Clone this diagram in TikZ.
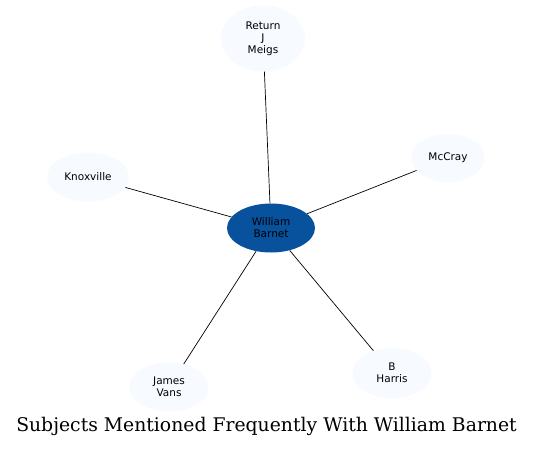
\documentclass[tikz,border=0pt]{standalone}
\usepackage{fontspec}
\usetikzlibrary{shapes.geometric}
\setmainfont{DejaVu Serif}
\newfontfamily\labelfont{DejaVu Sans}
\definecolor{hubblue}{HTML}{08519C}
\definecolor{leafblue}{HTML}{F7FBFF}
\begin{document}
\begin{tikzpicture}[x=1pt,y=-1pt,
  ent/.style={ellipse, fill=leafblue, draw=none, inner sep=0pt, align=center,
    font=\labelfont\fontsize{10.5}{12}\selectfont, text=black},
  hub/.style={ent, fill=hubblue},
  link/.style={draw=black, line width=0.7pt}]
\useasboundingbox (0,0) rectangle (533,448);
\fill[white] (0,0) rectangle (533,448);
\node[hub, minimum width=88pt, minimum height=49pt] (wb) at (271,228) {William\\Barnet};
\node[ent, minimum width=84pt, minimum height=66pt] (rjm) at (263,38.5) {Return\\J\\Meigs};
\node[ent, minimum width=73pt, minimum height=48pt] (mc) at (448,158) {McCray};
\node[ent, minimum width=82pt, minimum height=49pt] (kx) at (88,177) {Knoxville};
\node[ent, minimum width=79pt, minimum height=49pt] (jv) at (169,387) {James\\Vans};
\node[ent, minimum width=79pt, minimum height=50pt] (bh) at (392,373) {B\\Harris};
\draw[link] (wb) -- (rjm);
\draw[link] (wb) -- (mc);
\draw[link] (wb) -- (kx);
\draw[link] (wb) -- (jv);
\draw[link] (wb) -- (bh);
\node[font=\fontsize{18.8}{22}\selectfont, inner sep=0pt] (title) at (266.5,426.5) {Subjects Mentioned Frequently With William Barnet};
\end{tikzpicture}
\end{document}
